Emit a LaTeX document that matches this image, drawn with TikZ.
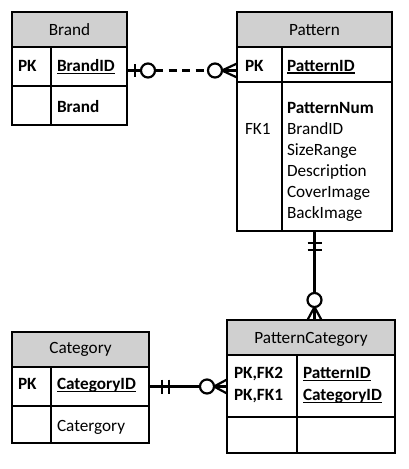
\documentclass[tikz,border=0pt]{standalone}
\usepackage{fontspec}
\setmainfont{Carlito}
\usetikzlibrary{calc}
\definecolor{hdrgray}{RGB}{208,208,208}
\newcommand\uln[1]{\setbox0\hbox{#1}\rlap{\vrule width\wd0 height -1.3pt depth 2.9pt}\box0}
\tikzset{
  cell/.style={draw=black, line width=1.1pt, inner sep=0pt, outer sep=0pt, anchor=north west},
  hdr/.style={cell, fill=hdrgray},
  txt/.style={inner sep=0pt, outer sep=0pt, anchor=base west, font=\fontsize{17.2pt}{21pt}\selectfont},
  htxt/.style={txt, anchor=base},
  conn/.style={line width=2.2pt, black},
  ring/.style={line width=2.2pt, draw=black, fill=white},
}
\begin{document}
\begin{tikzpicture}[x=1pt,y=-1pt]
\useasboundingbox (0,0) rectangle (409,469);
% ---------------- Brand
\node[hdr, minimum width=115pt, minimum height=35pt] (brandh) at (12,12) {};
\node[cell, minimum width=39pt, minimum height=39pt] (brandk1) at (12,47) {};
\node[cell, minimum width=76pt, minimum height=39pt] (brandf1) at (51,47) {};
\node[cell, minimum width=39pt, minimum height=39pt] (brandk2) at (12,86) {};
\node[cell, minimum width=76pt, minimum height=39pt] (brandf2) at (51,86) {};
\node[htxt] (brandt) at (69.5,35.5) {Brand};
\node[txt] (brandpk) at (18,71.5) {\textbf{PK}};
\node[txt] (brandid) at (57,71.5) {\uln{\textbf{BrandID}}};
\node[txt] (brandnm) at (57,112.5) {\textbf{Brand}};
% ---------------- Pattern
\node[hdr, minimum width=155pt, minimum height=35pt] (path) at (237,12) {};
\node[cell, minimum width=45pt, minimum height=35pt] (patk1) at (237,47) {};
\node[cell, minimum width=110pt, minimum height=35pt] (patf1) at (282,47) {};
\node[cell, minimum width=45pt, minimum height=149pt] (patk2) at (237,82) {};
\node[cell, minimum width=110pt, minimum height=149pt] (patf2) at (282,82) {};
\node[htxt] (patt) at (314.5,35.5) {Pattern};
\node[txt] (patpk) at (245,71) {\textbf{PK}};
\node[txt] (patid) at (287,71) {\uln{\textbf{PatternID}}};
\node[txt] (patfk) at (245,134) {FK1};
\node[txt, align=left, anchor=north west] (patattr) at (287,102.5) {\textbf{PatternNum}\\BrandID\\SizeRange\\Description\\CoverImage\\BackImage};
% ---------------- Category
\node[hdr, minimum width=137pt, minimum height=35pt] (cath) at (12,332) {};
\node[cell, minimum width=39pt, minimum height=39pt] (catk1) at (12,367) {};
\node[cell, minimum width=98pt, minimum height=39pt] (catf1) at (51,367) {};
\node[cell, minimum width=39pt, minimum height=37pt] (catk2) at (12,406) {};
\node[cell, minimum width=98pt, minimum height=37pt] (catf2) at (51,406) {};
\node[htxt] (catt) at (80.5,353.5) {Category};
\node[txt] (catpk) at (18,389.5) {\textbf{PK}};
\node[txt] (catid) at (57,389.5) {\uln{\textbf{CategoryID}}};
\node[txt] (catnm) at (57,431.5) {Catergory};
% ---------------- PatternCategory
\node[hdr, minimum width=168pt, minimum height=35pt] (pch) at (227,320) {};
\node[cell, minimum width=70pt, minimum height=62pt] (pck1) at (227,355) {};
\node[cell, minimum width=98pt, minimum height=62pt] (pcf1) at (297,355) {};
\node[cell, minimum width=70pt, minimum height=36pt] (pck2) at (227,417) {};
\node[cell, minimum width=98pt, minimum height=36pt] (pcf2) at (297,417) {};
\node[htxt] (pct) at (311,343.5) {PatternCategory};
\node[txt] (pckeys) at (234,378.5) {\textbf{PK,FK2}};
\node[txt] (pckeys2) at (234,400.5) {\textbf{PK,FK1}};
\node[txt] (pcid1) at (303,378.5) {\uln{\textbf{PatternID}}};
\node[txt] (pcid2) at (303,400.5) {\uln{\textbf{CategoryID}}};
% ---------------- Brand -- Pattern (zero-or-one to zero-or-many, dashed)
\coordinate (a1) at ([yshift=-4pt]brandf1.east);
\coordinate (b1) at (a1 -| patk1.west);
\draw[conn] (a1) -- ($(a1)+(14,0)$);
\draw[conn] ($(a1)+(8,-6.5)$) -- ($(a1)+(8,6.5)$);
\draw[ring] ($(a1)+(21,0)$) circle[radius=7pt];
\draw[conn, dash pattern=on 8pt off 5.5pt] ($(a1)+(28,0)$) -- ($(b1)+(-29,0)$);
\draw[ring] ($(b1)+(-22,0)$) circle[radius=7pt];
\draw[conn] ($(b1)+(-15,0)$) -- (b1);
\draw[conn] ($(b1)+(-15,0)$) -- ($(b1)+(0,-7)$);
\draw[conn] ($(b1)+(-15,0)$) -- ($(b1)+(0,7)$);
% ---------------- Pattern -- PatternCategory (one to zero-or-many)
\coordinate (a2) at ($(patk2.south west)!0.5!(patf2.south east)$);
\coordinate (b2) at (a2 |- pch.north);
\draw[conn] (a2) -- ($(b2)+(0,-27)$);
\draw[conn] ($(a2)+(-7,12)$) -- ($(a2)+(7,12)$);
\draw[conn] ($(a2)+(-7,19)$) -- ($(a2)+(7,19)$);
\draw[ring] ($(b2)+(0,-20)$) circle[radius=7pt];
\draw[conn] ($(b2)+(0,-13)$) -- (b2);
\draw[conn] ($(b2)+(0,-13)$) -- ($(b2)+(-7,0)$);
\draw[conn] ($(b2)+(0,-13)$) -- ($(b2)+(7,0)$);
% ---------------- Category -- PatternCategory (one to zero-or-many)
\coordinate (a3) at (catf1.east);
\coordinate (b3) at (a3 -| pck1.west);
\draw[conn] (a3) -- ($(b3)+(-27,0)$);
\draw[conn] ($(a3)+(13,-7)$) -- ($(a3)+(13,7)$);
\draw[conn] ($(a3)+(20,-7)$) -- ($(a3)+(20,7)$);
\draw[ring] ($(b3)+(-20,0)$) circle[radius=7pt];
\draw[conn] ($(b3)+(-13,0)$) -- (b3);
\draw[conn] ($(b3)+(-13,0)$) -- ($(b3)+(0,-7)$);
\draw[conn] ($(b3)+(-13,0)$) -- ($(b3)+(0,7)$);
\end{tikzpicture}
\end{document}
